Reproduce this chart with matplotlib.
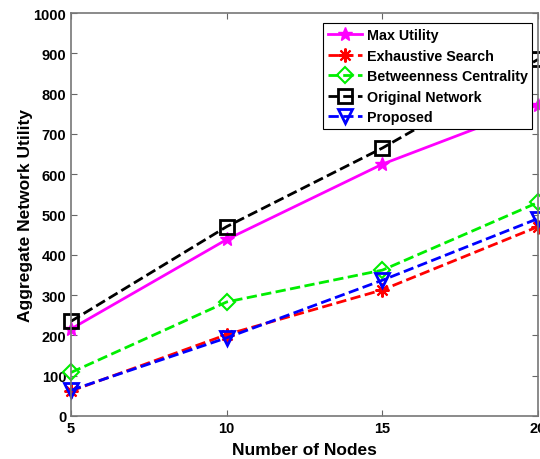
import numpy as np
import matplotlib.pyplot as plt

plt.rcParams['font.family'] = ['Liberation Sans', 'DejaVu Sans']
plt.rcParams['font.weight'] = 'bold'

nodes = [5, 10, 15, 20]
max_utility = [216, 438, 625, 772]
exhaustive = [62, 202, 313, 470]
betweenness = [108, 283, 362, 530]
original = [235, 470, 665, 885]
proposed = [64, 194, 337, 490]

fig = plt.figure(figsize=(5.4, 4.6), dpi=100)
ax = fig.add_axes([0.1315, 0.0935, 0.865, 0.876])

ax.plot(nodes, max_utility, '-', color='#ff00ff', lw=2, marker='*', ms=10,
        mfc='#ff00ff', mec='#ff00ff', label='Max Utility', clip_on=False)
ax.plot(nodes, exhaustive, '--', color='#ff0000', lw=2, marker=(8, 2, 0), ms=10,
        mew=1.5, label='Exhaustive Search', clip_on=False)
ax.plot(nodes, betweenness, '--', color='#00ee00', lw=2, marker='D', ms=8,
        mfc='none', mew=1.5, label='Betweenness Centrality', clip_on=False)
ax.plot(nodes, original, '--', color='black', lw=2, marker='s', ms=10,
        mfc='none', mew=2, label='Original Network', clip_on=False)
ax.plot(nodes, proposed, '--', color='#0000ff', lw=2, marker='v', ms=10,
        mfc='none', mew=2, label='Proposed', clip_on=False)

ax.set_xlim(5, 20)
ax.set_ylim(0, 1000)
ax.set_xticks([5, 10, 15, 20])
ax.set_yticks(np.arange(0, 1001, 100))
ax.tick_params(direction='in', top=True, right=True, labelsize=10.5, length=4,
               color='#666666')
for s in ax.spines.values():
    s.set_color('#777777')
    s.set_linewidth(1.2)

ax.set_xlabel('Number of Nodes', fontsize=12.5, fontweight='bold', labelpad=5)
ax.set_ylabel('Aggregate Network Utility', fontsize=12.5, fontweight='bold', labelpad=0)

leg = ax.legend(loc='upper right', bbox_to_anchor=(0.997, 0.985), fontsize=10.3,
                numpoints=1, handlelength=2.4, fancybox=False, framealpha=1,
                borderpad=0.35, labelspacing=0.45, handletextpad=0.3,
                borderaxespad=0.3)
leg.get_frame().set_edgecolor('black')
leg.get_frame().set_linewidth(0.8)

fig.savefig('out.png', dpi=100)
